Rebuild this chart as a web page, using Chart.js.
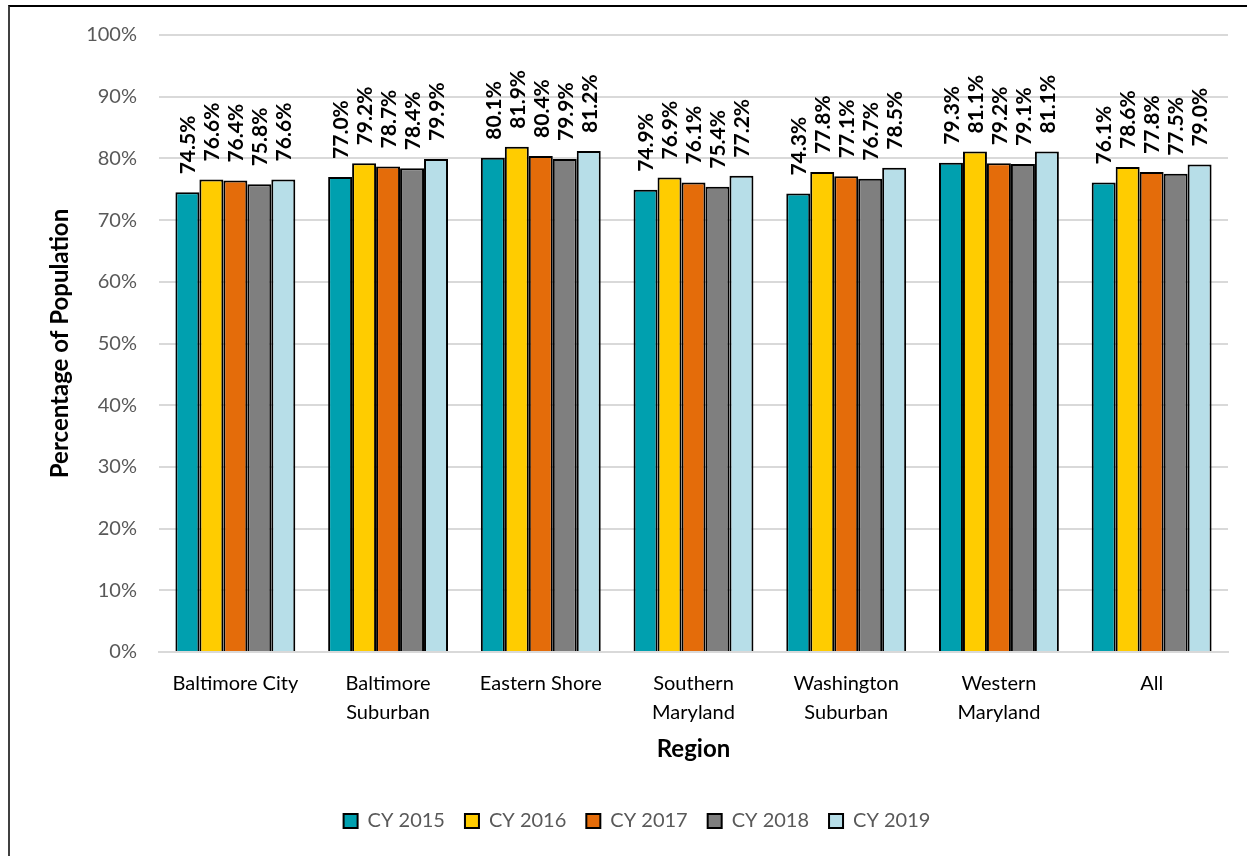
<!DOCTYPE html>
<html>
<head>
<meta charset="utf-8">
<script src="https://cdn.jsdelivr.net/npm/chart.js@4"></script>
<style>
  html, body { margin: 0; padding: 0; background: #fff; }
  #wrap { position: relative; width: 1254px; height: 856px; overflow: hidden; }
  #frame { position: absolute; left: 8px; top: 5px; width: 1237px; height: 900px;
           border-top: 2px solid #000; border-left: 2px solid #404040; }
  canvas { position: absolute; left: 0; top: 0; }
</style>
</head>
<body>
<div id="wrap">
  <div id="frame"></div>
  <canvas id="chart" width="1254" height="856"></canvas>
</div>
<script>
// 區域與年度資料
var regions = [
  'Baltimore City',
  ['Baltimore', 'Suburban'],
  'Eastern Shore',
  ['Southern', 'Maryland'],
  ['Washington', 'Suburban'],
  ['Western', 'Maryland'],
  'All'
];
var years = ['CY 2015', 'CY 2016', 'CY 2017', 'CY 2018', 'CY 2019'];
var cy2015 = [74.5, 77.0, 80.1, 74.9, 74.3, 79.3, 76.1];
var cy2016 = [76.6, 79.2, 81.9, 76.9, 77.8, 81.1, 78.6];
var cy2017 = [76.4, 78.7, 80.4, 76.1, 77.1, 79.2, 77.8];
var cy2018 = [75.8, 78.4, 79.9, 75.4, 76.7, 79.1, 77.5];
var cy2019 = [76.6, 79.9, 81.2, 77.2, 78.5, 81.1, 79.0];
var yTicks = [0, 10, 20, 30, 40, 50, 60, 70, 80, 90, 100];
var colors = ['#00A0AF', '#FFCC00', '#E46C0A', '#7F7F7F', '#B7DEE8'];

var FONT = 'Lato, "Open Sans", sans-serif';

// 長條上方的直式數值標籤
var barLabels = {
  id: 'barLabels',
  afterDatasetsDraw: function(chart) {
    var ctx = chart.ctx;
    ctx.save();
    ctx.font = 'bold 21px ' + FONT;
    ctx.fillStyle = '#000';
    ctx.textAlign = 'left';
    ctx.textBaseline = 'middle';
    chart.data.datasets.forEach(function(ds, i) {
      chart.getDatasetMeta(i).data.forEach(function(bar, j) {
        ctx.save();
        ctx.translate(bar.x, bar.y - 18);
        ctx.rotate(-Math.PI / 2);
        ctx.fillText(ds.data[j].toFixed(1) + '%', 0, 1);
        ctx.restore();
      });
    });
    ctx.restore();
  }
};

var seriesData = [cy2015, cy2016, cy2017, cy2018, cy2019];
var datasets = years.map(function(y, i) {
  return {
    label: y,
    data: seriesData[i],
    backgroundColor: colors[i],
    borderColor: '#000',
    borderWidth: 2,
    barPercentage: 1.0,
    categoryPercentage: 0.785
  };
});

var ctx = document.getElementById('chart').getContext('2d');
new Chart(ctx, {
  type: 'bar',
  data: { labels: regions, datasets: datasets },
  options: {
    responsive: false,
    animation: false,
    layout: { padding: { left: 46, right: 26, top: 35, bottom: 15 } },
    plugins: {
      title: { display: false },
      tooltip: { enabled: false },
      legend: {
        position: 'bottom',
        labels: {
          boxWidth: 14,
          boxHeight: 14,
          padding: 20,
          color: '#595959',
          font: { family: FONT, size: 20 }
        }
      }
    },
    scales: {
      x: {
        grid: { display: false, drawTicks: false },
        border: { display: true, color: '#D9D9D9', width: 2 },
        ticks: {
          color: '#000',
          padding: 17,
          maxRotation: 0,
          autoSkip: false,
          font: { family: FONT, size: 20, lineHeight: 1.45 }
        },
        title: {
          display: true,
          text: 'Region',
          color: '#000',
          font: { family: FONT, size: 24, weight: 'bold' },
          padding: { top: 4, bottom: 27 }
        },
        afterFit: function(scale) { scale.height = 139; }
      },
      y: {
        min: 0,
        max: 100,
        afterBuildTicks: function(scale) {
          scale.ticks = yTicks.map(function(v) { return { value: v }; });
        },
        grid: { color: '#D9D9D9', lineWidth: 2, drawTicks: false },
        border: { display: false },
        ticks: {
          color: '#595959',
          padding: 22,
          font: { family: FONT, size: 20 },
          callback: function(v) { return v + '%'; }
        },
        title: {
          display: true,
          text: 'Percentage of Population',
          color: '#000',
          font: { family: FONT, size: 24, weight: 'bold' },
          padding: 0
        },
        afterFit: function(scale) { scale.width = 113; }
      }
    }
  },
  plugins: [barLabels]
});
</script>
</body>
</html>
